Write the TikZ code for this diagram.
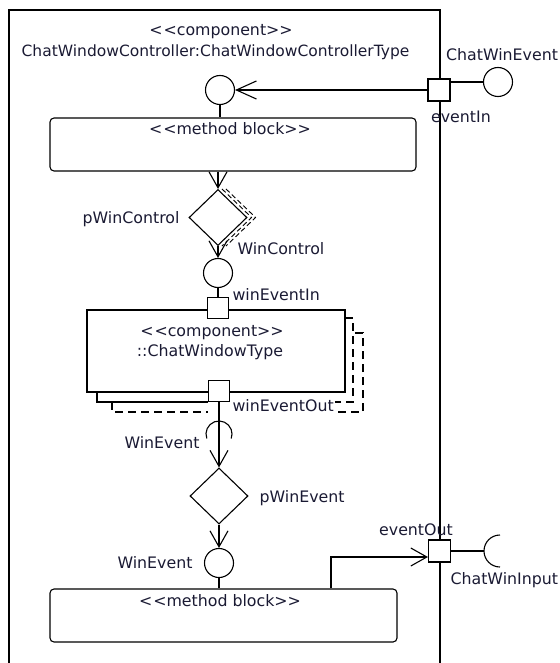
\documentclass[tikz,border=0pt]{standalone}
\usepackage{fontspec}
\setmainfont{DejaVu Sans}
\usetikzlibrary{arrows.meta,shapes.geometric}
\definecolor{txt}{HTML}{1A1A33}
\newcommand{\myopen}{<\kern1pt<}
\newcommand{\myclose}{>\kern0pt>}
\begin{document}
\begin{tikzpicture}[x=1pt,y=-1pt, line width=1.1pt,
  lbl/.style={text=txt, font=\fontsize{15.8}{18}\selectfont, inner sep=0pt},
  port/.style={draw, fill=white, minimum size=22pt, inner sep=0pt},
  iface/.style={draw, circle, minimum size=29pt, inner sep=0pt},
  mblock/.style={draw, rounded corners=4pt, inner sep=0pt},
  choice/.style={draw, diamond, minimum width=58pt, minimum height=56pt, inner sep=0pt},
  vee/.style={-{Straight Barb[length=16pt,width=18pt]}},
  veel/.style={-{Straight Barb[length=20pt,width=18pt]}},
  dsh/.style={dash pattern=on 5pt off 3pt, line width=0.9pt},
  dshl/.style={dash pattern=on 8pt off 5pt}]
\useasboundingbox (0,0) rectangle (559,663);
% outer component frame
\draw (9,663) -- (9,10) -- (440,10) -- (440,663);
\node[lbl] (t1) at (221,32) {\myopen component\myclose};
\node[lbl, font=\fontsize{15.5}{18}\selectfont] (t2) at (215.5,52) {ChatWindowController:ChatWindowControllerType};
% eventIn port and provided interface
\node[iface] (ci) at (498,82) {};
\node[port] (pin) at (439,90) {};
\draw (ci.west -| pin.east) -- (ci.west);
\node[lbl] (lci) at (502,55) {ChatWinEvent};
\node[lbl] (lpin) at (461,117) {eventIn};
% first method block
\node[iface] (c1) at (220,90) {};
\draw[veel] (pin.west) -- (c1.east);
\node[mblock, minimum width=366pt, minimum height=53pt] (b1) at (233,144.5) {};
\node[lbl] (lb1) at (230,129) {\myopen method block\myclose};
\draw (c1.south) -- (c1.south |- b1.north);
% decision 1
\node[choice] (d1) at (218,217.5) {};
\draw[vee] (b1.south -| d1.north) -- (d1.north);
\draw[dsh] ([xshift=4pt]d1.north) -- ([xshift=4pt]d1.east) -- ([xshift=4pt]d1.south);
\draw[dsh] ([xshift=8pt]d1.north) -- ([xshift=8pt]d1.east) -- ([xshift=8pt]d1.south);
\node[lbl, anchor=east] (ld1) at (180,219) {pWinControl};
\node[iface] (c2) at (218,273) {};
\draw[vee] (d1.south) -- (c2.north);
\node[lbl, anchor=west] (lc2) at (237,249) {WinControl};
% inner component with shadows
\draw (97,392) -- (97,402) -- (208,402);
\draw[dshl] (345,318) -- (353,318) -- (353,402) -- (335,402);
\draw[dshl] (112,402) -- (112,412) -- (208,412);
\draw[dshl] (338,412) -- (363,412) -- (363,333) -- (353,333);
\node[draw, minimum width=258pt, minimum height=82pt, inner sep=0pt] (comp) at (216,351) {};
\node[lbl] (lcomp1) at (212,333) {\myopen component\myclose};
\node[lbl] (lcomp2) at (210,352) {::ChatWindowType};
\node[port, minimum size=21pt] (win) at (218,308) {};
\draw (c2.south) -- (win.north);
\node[lbl, anchor=west] (lwin) at (232,295) {winEventIn};
\node[port, minimum size=21pt] (wout) at (219,391) {};
\node[lbl, anchor=west] (lwout) at (232,406) {winEventOut};
% required socket and decision 2
\coordinate (sk) at (219,434);
\draw (sk) ++(160:13) arc[start angle=160, end angle=380, radius=13];
\node[choice] (d2) at (219,496) {};
\draw[vee] (wout.south) -- (d2.north);
\node[lbl, anchor=east] (lsk) at (200,443) {WinEvent};
\node[lbl, anchor=west] (ld2) at (259,498) {pWinEvent};
\node[iface] (c3) at (219,563) {};
\draw[vee] (d2.south) -- (c3.north);
\node[lbl, anchor=east] (lc3) at (193,563) {WinEvent};
% second method block
\node[mblock, minimum width=347pt, minimum height=53pt] (b2) at (223.5,615.5) {};
\node[lbl] (lb2) at (220,601) {\myopen method block\myclose};
\draw (c3.south) -- (c3.south |- b2.north);
% eventOut port
\node[port] (pout) at (439.5,551) {};
\coordinate (bend) at (331,557);
\draw[vee] (b2.north -| bend) -- (bend) -- (pout.west |- bend);
\coordinate (s2) at (500,551);
\draw (pout.east) -- ([xshift=-16pt]s2);
\draw (s2) ++(90:16) arc[start angle=90, end angle=270, radius=16];
\node[lbl] (lpout) at (416,530) {eventOut};
\node[lbl, anchor=west] (ls2) at (450,580) {ChatWinInput};
\end{tikzpicture}
\end{document}
